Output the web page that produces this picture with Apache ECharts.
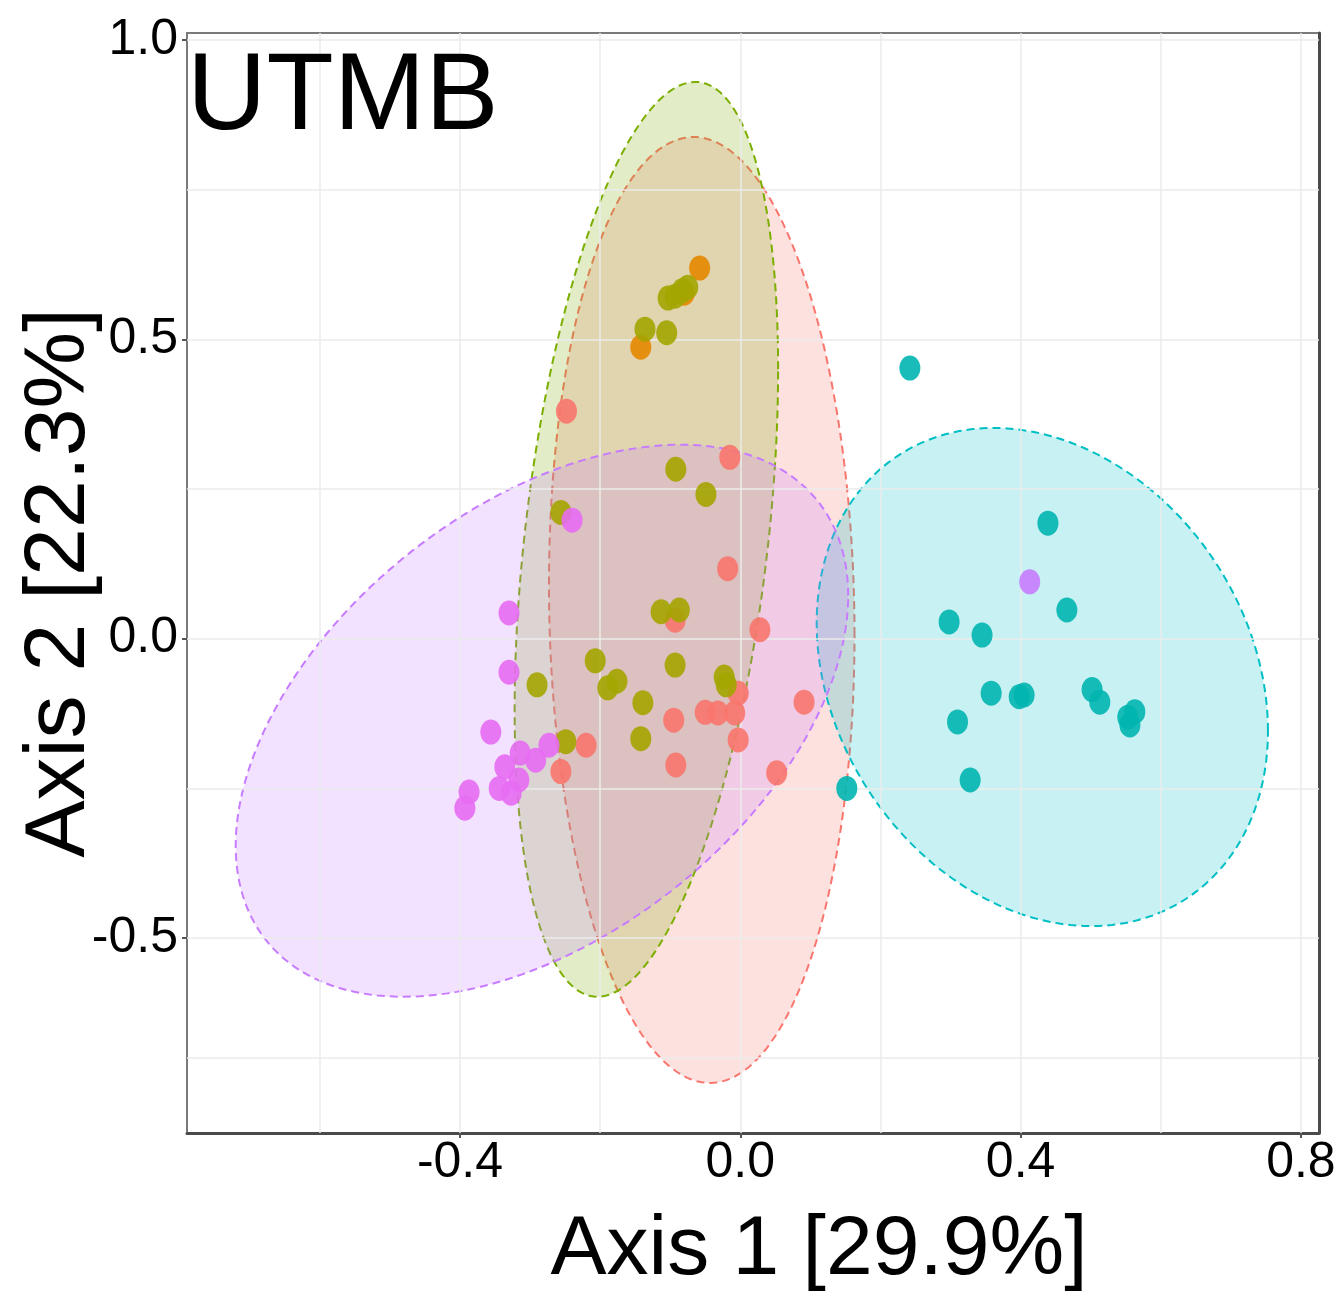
<!DOCTYPE html>
<html>
<head>
<meta charset="utf-8">
<title>UTMB</title>
<script src="https://cdn.jsdelivr.net/npm/echarts@6/dist/echarts.min.js"></script>
<style>
  html, body { margin: 0; padding: 0; background: #fff; }
  #chart { width: 1339px; height: 1295px; }
</style>
</head>
<body>
<div id="chart"></div>
<script>
// tick labels and grid lines
const xTicks = [-0.4, 0.0, 0.4, 0.8]
const yTicks = [-0.5, 0.0, 0.5, 1.0]
const xGrid = [-0.6, -0.4, -0.2, 0.0, 0.2, 0.4, 0.6, 0.8]
const yGrid = [-0.7, -0.5, -0.25, 0.0, 0.25, 0.5, 0.75, 1.0]

// ellipses: [cx, cy, half width, half height, y offset of right-most point]
const ellipseNames = ['red', 'green', 'cyan', 'purple']
const ellipseParams = [
  [-0.055, 0.048, 0.218, 0.790, -0.042],
  [-0.134, 0.166, 0.188, 0.764, 0.284],
  [0.431, -0.064, 0.322, 0.416, -0.090],
  [-0.283, -0.137, 0.437, 0.461, 0.209]
]
const ellipseColors = ['#F8766D', '#7CAE00', '#00BFC4', '#C77CFF']

// points, one list per colour
const redPts = [
  [-0.248, 0.380], [-0.015, 0.303], [-0.018, 0.117], [-0.093, 0.031], [0.028, 0.015],
  [-0.003, -0.091], [-0.008, -0.124], [-0.050, -0.123], [-0.032, -0.124], [-0.095, -0.136],
  [0.091, -0.106], [-0.003, -0.169], [-0.092, -0.211], [-0.220, -0.178], [0.052, -0.224],
  [-0.256, -0.222]
]
const orangePts = [[-0.058, 0.619], [-0.142, 0.487], [-0.080, 0.577]]
const olivePts = [
  [-0.136, 0.517], [-0.105, 0.511], [-0.103, 0.569], [-0.093, 0.572], [-0.083, 0.581],
  [-0.075, 0.587], [-0.092, 0.283], [-0.049, 0.241], [-0.256, 0.211], [-0.113, 0.045],
  [-0.087, 0.048], [-0.207, -0.037], [-0.189, -0.082], [-0.176, -0.071], [-0.093, -0.044],
  [-0.023, -0.064], [-0.020, -0.077], [-0.290, -0.077], [-0.139, -0.107], [-0.142, -0.167],
  [-0.249, -0.172]
]
const magentaPts = [
  [-0.240, 0.198], [-0.330, 0.043], [-0.330, -0.056], [-0.356, -0.156], [-0.314, -0.191],
  [-0.292, -0.203], [-0.273, -0.178], [-0.336, -0.214], [-0.316, -0.236], [-0.344, -0.250],
  [-0.327, -0.258], [-0.387, -0.256], [-0.393, -0.283]
]
const purplePts = [[0.413, 0.095]]
const tealPts = [
  [0.242, 0.452], [0.439, 0.193], [0.466, 0.048], [0.298, 0.028], [0.345, 0.006],
  [0.358, -0.091], [0.405, -0.094], [0.398, -0.097], [0.502, -0.085], [0.513, -0.106],
  [0.553, -0.131], [0.563, -0.122], [0.556, -0.144], [0.310, -0.139], [0.328, -0.236],
  [0.152, -0.250]
]

const font = 'Liberation Sans, Arial, Helvetica, sans-serif'

const rgba = (hex, a) => {
  const n = parseInt(hex.slice(1), 16)
  return `rgba(${(n >> 16) & 255},${(n >> 8) & 255},${n & 255},${a})`
}

const pointSeries = (name, data, color) => ({
  name,
  type: 'scatter',
  data,
  z: 5,
  symbol: 'circle',
  symbolSize: [21, 25],
  itemStyle: { color, opacity: 0.9 }
})

const chart = echarts.init(document.getElementById('chart'), null, { renderer: 'canvas' })

chart.setOption({
  animation: false,
  backgroundColor: '#fff',
  title: {
    text: 'UTMB',
    left: 187,
    top: 44,
    padding: 0,
    textStyle: { fontSize: 110, fontWeight: 'normal', color: '#000', fontFamily: font }
  },
  grid: {
    left: 187, right: 20, top: 33, bottom: 162,
    outerBoundsMode: 'none',
    containLabel: false,
    show: true, borderColor: '#7a7a7a', borderWidth: 2
  },
  xAxis: {
    type: 'value',
    min: -0.7895,
    max: 0.8258,
    name: 'Axis 1 [29.9%]',
    nameLocation: 'middle',
    nameGap: 76,
    nameMoveOverlap: false,
    nameTextStyle: { fontSize: 84, color: '#000', fontFamily: font, padding: [0, 0, 0, 132] },
    axisLine: { show: true, onZero: false, lineStyle: { color: '#4a4a4a', width: 3 } },
    axisTick: { show: true, length: 5, customValues: xTicks, lineStyle: { color: '#555', width: 2 } },
    axisLabel: {
      customValues: xTicks,
      margin: 5,
      fontSize: 50,
      color: '#000',
      fontFamily: font,
      formatter: v => v.toFixed(1)
    },
    splitLine: { show: false }
  },
  yAxis: [
    {
      type: 'value',
      min: -0.8256,
      max: 1.0117,
      name: 'Axis 2 [22.3%]',
      nameLocation: 'middle',
      nameGap: 84,
      nameMoveOverlap: false,
      nameTextStyle: { fontSize: 86, color: '#000', fontFamily: font },
      axisLine: { show: true, onZero: false, lineStyle: { color: '#7a7a7a', width: 2 } },
      axisTick: { show: true, length: 5, customValues: yTicks, lineStyle: { color: '#555', width: 2 } },
      axisLabel: {
        customValues: yTicks,
        margin: 9,
        fontSize: 50,
        color: '#000',
        fontFamily: font,
        formatter: v => v.toFixed(1)
      },
      splitLine: { show: false }
    },
    {
      type: 'value',
      position: 'right',
      min: -0.8256,
      max: 1.0117,
      axisLine: { show: true, onZero: false, lineStyle: { color: '#4a4a4a', width: 3 } },
      axisTick: { show: false },
      axisLabel: { show: false },
      splitLine: { show: false }
    }
  ],
  series: [
    {
      name: 'grid',
      type: 'scatter',
      data: [],
      z: 1,
      markLine: {
        silent: true,
        symbol: 'none',
        animation: false,
        label: { show: false },
        lineStyle: { color: '#ebebeb', width: 1.5, type: 'solid' },
        data: [
          ...xGrid.map(v => ({ xAxis: v })),
          ...yGrid.map(v => ({ yAxis: v }))
        ]
      }
    },
    {
      name: 'ellipses',
      type: 'custom',
      z: 2,
      data: ellipseParams,
      encode: { x: 0, y: 1 },
      renderItem: (params, api) => {
        const cx = api.value(0)
        const cy = api.value(1)
        const rx = api.value(2)
        const ry = api.value(3)
        const k = api.value(4)
        const ky = Math.sqrt(ry * ry - k * k)
        const pts = []
        for (let i = 0; i < 200; i++) {
          const t = (i / 200) * Math.PI * 2
          pts.push(api.coord([cx + rx * Math.cos(t), cy + k * Math.cos(t) + ky * Math.sin(t)]))
        }
        const c = ellipseColors[params.dataIndex]
        return {
          type: 'polygon',
          shape: { points: pts },
          style: { fill: rgba(c, 0.22), stroke: c, lineWidth: 2, lineDash: [8, 5] }
        }
      }
    },
    pointSeries('red', redPts, '#F8766D'),
    pointSeries('orange', orangePts, '#E58700'),
    pointSeries('olive', olivePts, '#A3A500'),
    pointSeries('magenta', magentaPts, '#E76BF3'),
    pointSeries('purple', purplePts, '#C77CFF'),
    pointSeries('teal', tealPts, '#00B5B0')
  ]
})

window.addEventListener('resize', () => chart.resize())
</script>
</body>
</html>
